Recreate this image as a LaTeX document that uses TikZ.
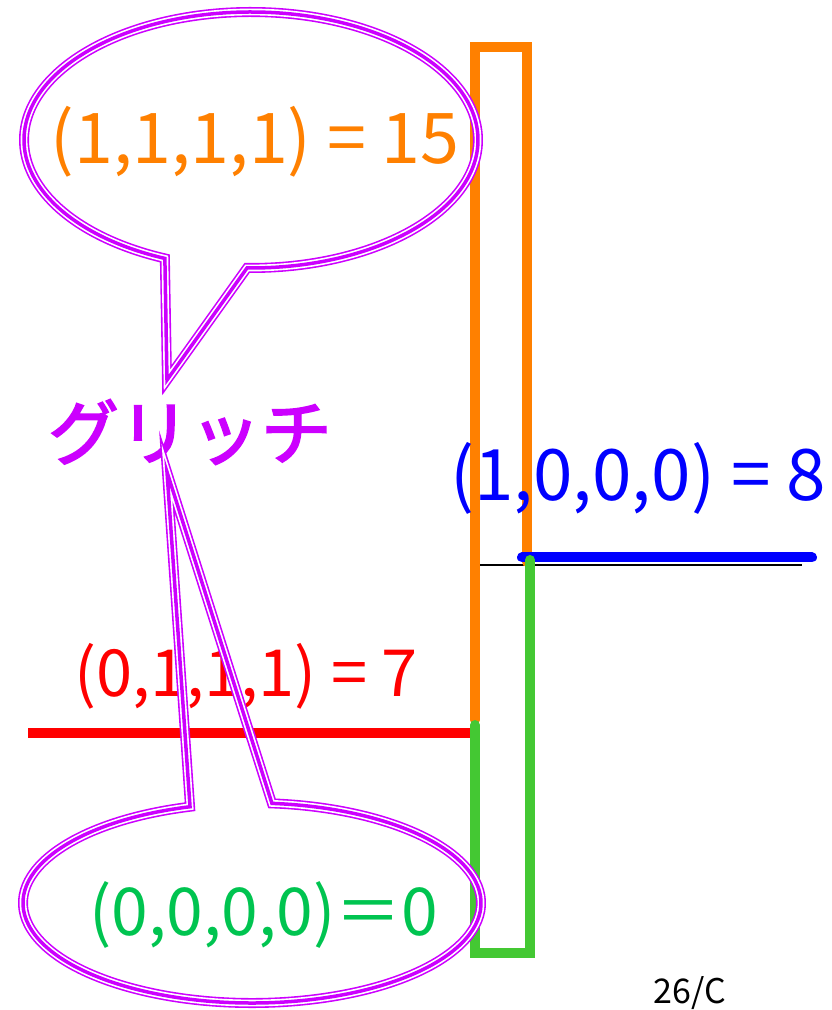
\documentclass[tikz,border=0pt]{standalone}
\usepackage{fontspec}
\setmainfont{Noto Sans CJK JP}
\newfontfamily\katafont[FakeBold=2.5]{Noto Sans CJK JP}
\usetikzlibrary{calc,positioning}

\definecolor{glitch}{RGB}{204,0,255}
\definecolor{bitorange}{RGB}{255,128,0}
\definecolor{bitgreen}{RGB}{68,200,51}
\definecolor{zerogreen}{RGB}{0,196,80}

\tikzset{
  bar/.style={line width=10pt, line cap=round, line join=miter},
  bubble/.style={draw=glitch, line width=3.5pt, line join=miter,
    preaction={draw=glitch, line width=10pt},
    preaction={draw=white, line width=6.8pt}},
  big/.style={font=\fontsize{#1}{#1}\selectfont, inner sep=0pt}
}

\begin{document}
\begin{tikzpicture}[x=1pt, y=1pt]

  \useasboundingbox (0,0) rectangle (831,1010);

  %-------------------------
  % Signal lines
  %-------------------------
  \draw[line width=2pt] (480,445) -- (802,445);
  \draw[bar, bitorange] (475,290) -- (475,963) -- (527,963) -- (527,448);
  \draw[bar, blue] (522,452.5) -- (812,452.5);
  \draw[bar, red, line cap=butt] (28,277) -- (470,277);
  \draw[bar, bitgreen] (475,285) -- (475,57) -- (530,57) -- (530,450);

  %-------------------------
  % Labels
  %-------------------------
  \node[big=70, text=bitorange] (ones) at (255,868) {(1,1,1,1) = 15};
  \node[big=71, text=glitch] (glitchlab) at (190,578) {\katafont グリッチ};
  \node[big=71, text=blue] (high) at (638,532) {(1,0,0,0) = 8};
  \node[big=65, text=red] (low) at (246,334) {(0,1,1,1) = 7};
  \node[big=66, text=zerogreen] (zeros) at (264,95) {(0,0,0,0)＝0};
  \node[big=34] (page) at (690,17) {26/C};

  %-------------------------
  % Callouts
  %-------------------------
  \coordinate (topc) at (251,870);
  \coordinate (toptip) at (167,630);
  \draw[bubble] ($(topc)+({227*cos(269)},{128*sin(269)})$)
    arc[start angle=269, end angle=607.7, x radius=227, y radius=128]
    -- (toptip) -- cycle;

  \coordinate (botc) at (252,107);
  \coordinate (bottip) at (167,538);
  \draw[bubble] ($(botc)+({229*cos(105.7)},{100*sin(105.7)})$)
    arc[start angle=105.7, end angle=445, x radius=229, y radius=100]
    -- (bottip) -- cycle;

\end{tikzpicture}
\end{document}
